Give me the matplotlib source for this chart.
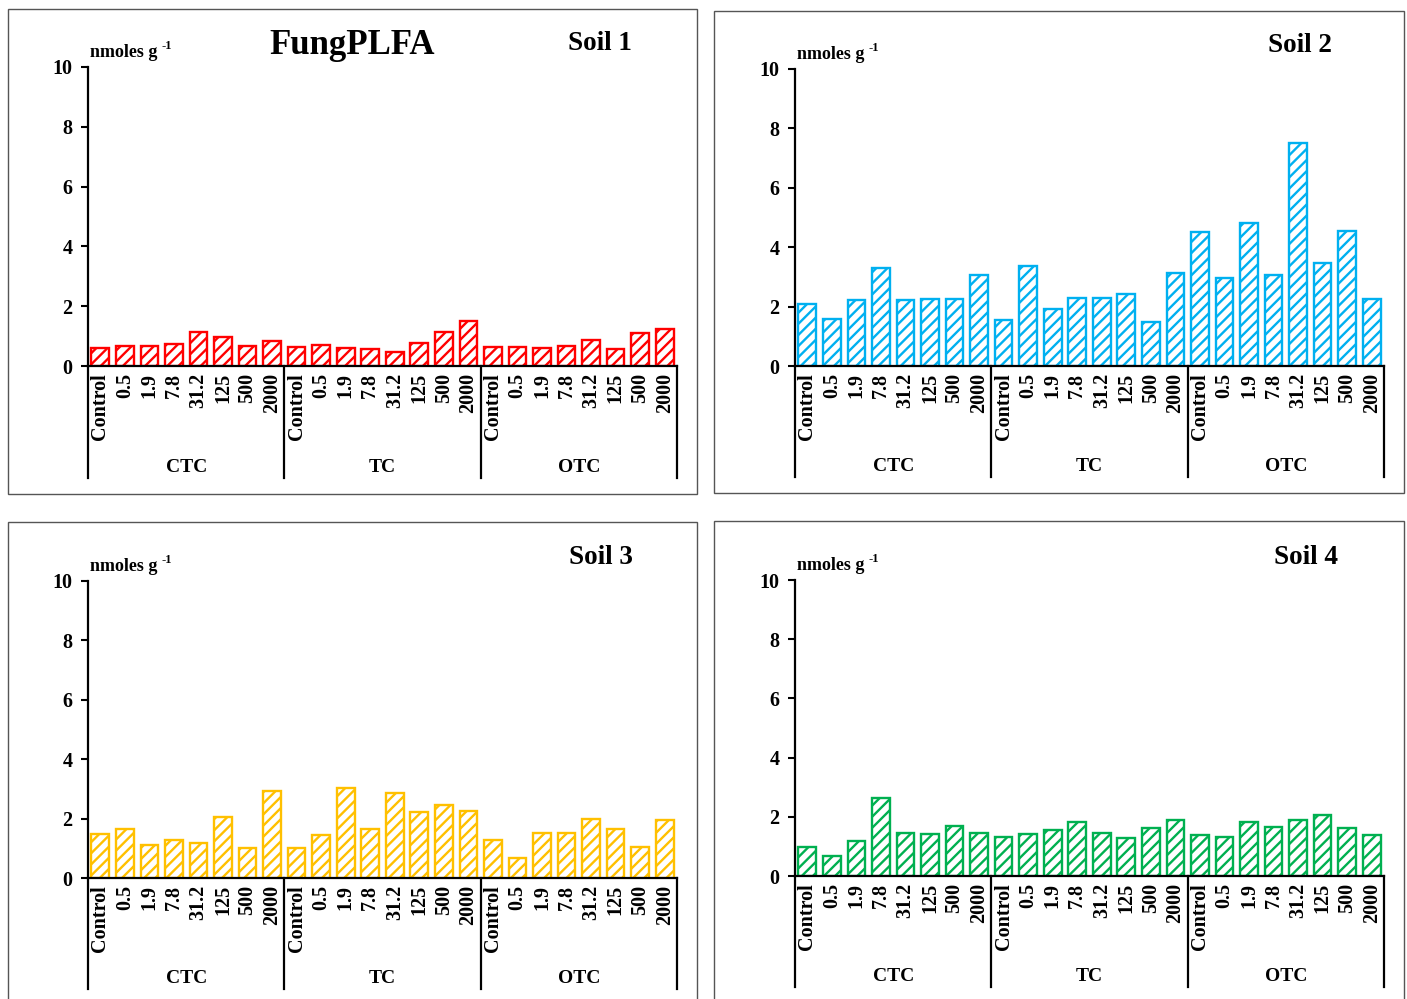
import numpy as np
import matplotlib.pyplot as plt
from matplotlib.patches import Rectangle

plt.rcParams['font.family'] = 'Liberation Serif'
plt.rcParams['font.weight'] = 'bold'
plt.rcParams['hatch.linewidth'] = 1.7

doses = ['Control', '0.5', '1.9', '7.8', '31.2', '125', '500', '2000']
groups = ['CTC', 'TC', 'OTC']
tick_labels = doses * 3

soil1 = [0.61, 0.68, 0.68, 0.75, 1.14, 0.96, 0.68, 0.84,
         0.64, 0.71, 0.61, 0.57, 0.47, 0.76, 1.15, 1.50,
         0.65, 0.65, 0.60, 0.67, 0.87, 0.57, 1.11, 1.25]
soil2 = [2.09, 1.57, 2.22, 3.30, 2.22, 2.26, 2.26, 3.08,
         1.56, 3.37, 1.93, 2.30, 2.30, 2.43, 1.49, 3.14,
         4.50, 2.96, 4.81, 3.06, 7.52, 3.46, 4.53, 2.27]
soil3 = [1.47, 1.64, 1.12, 1.29, 1.19, 2.04, 1.02, 2.94,
         1.02, 1.46, 3.04, 1.64, 2.85, 2.21, 2.47, 2.26,
         1.29, 0.69, 1.50, 1.50, 1.97, 1.64, 1.03, 1.96]
soil4 = [0.97, 0.69, 1.17, 2.62, 1.46, 1.41, 1.68, 1.46,
         1.32, 1.43, 1.56, 1.81, 1.45, 1.30, 1.62, 1.89,
         1.39, 1.32, 1.83, 1.65, 1.89, 2.07, 1.63, 1.37]

soils = [soil1, soil2, soil3, soil4]
titles = ['Soil 1', 'Soil 2', 'Soil 3', 'Soil 4']
colors = ['#FF0000', '#00B0F0', '#FFC000', '#00B050']

W, H = 1407, 999
fig = plt.figure(figsize=(W / 100, H / 100), dpi=100)

# panel layout in pixels: axes (left, right, y0, y10), title pos, box
axes_px = [(88, 677, 366, 67), (795, 1384, 366, 69),
           (88, 677, 878, 581), (795, 1384, 876, 580)]
title_px = [(600, 44), (1300, 46), (601, 557), (1306, 557)]
boxes_px = [(8, 9, 697, 494), (714, 11, 1404, 493),
            (8, 522, 697, 1010), (714, 521, 1404, 1010)]

for (x0, y0, x1, y1) in boxes_px:
    fig.patches.append(Rectangle((x0 / W, 1 - y1 / H), (x1 - x0) / W, (y1 - y0) / H,
                                 transform=fig.transFigure, fill=False,
                                 edgecolor='#555555', linewidth=1.0))

x = np.arange(len(tick_labels))
for i, vals in enumerate(soils):
    l, r, yb, yt = axes_px[i]
    ax = fig.add_axes([l / W, 1 - yb / H, (r - l) / W, (yb - yt) / H])
    ax.bar(x, vals, width=0.72, facecolor='white', edgecolor=colors[i],
           linewidth=1.7, hatch='///')
    ax.set_xlim(-0.5, len(x) - 0.5)
    ax.set_ylim(0, 10)
    ax.set_yticks([0, 2, 4, 6, 8, 10])
    ax.tick_params(axis='y', direction='out', length=5, width=1.5, labelsize=14.5, pad=6)
    ax.set_xticks(x)
    ax.set_xticklabels(tick_labels, rotation=90, fontsize=14.5, fontweight='bold')
    ax.tick_params(axis='x', length=0, pad=5)
    for s in ['top', 'right']:
        ax.spines[s].set_visible(False)
    for s in ['left', 'bottom']:
        ax.spines[s].set_linewidth(1.6)
    # group separators and labels
    for k in range(len(groups) + 1):
        ax.plot([k * 8 - 0.5, k * 8 - 0.5], [0, -0.375], color='black', lw=1.6,
                transform=ax.get_xaxis_transform(), clip_on=False)
    for k, g in enumerate(groups):
        ax.text(k * 8 + 3.5, -0.34, g, transform=ax.get_xaxis_transform(),
                ha='center', va='center', fontsize=14, fontweight='bold')
    t = ax.text(0.004, 1.05, 'nmoles g', transform=ax.transAxes,
                ha='left', va='center', fontsize=13, fontweight='bold')
    ax.annotate('-1', xy=(1.0, 0.85), xycoords=t, xytext=(3, 0),
                textcoords='offset points', ha='left', va='center',
                fontsize=9, fontweight='bold')
    tx, ty = title_px[i]
    fig.text(tx / W, 1 - ty / H, titles[i], ha='center', va='center',
             fontsize=19.5, fontweight='bold')

fig.text(352 / W, 1 - 45 / H, 'FungPLFA', ha='center', va='center',
         fontsize=25, fontweight='bold')

fig.savefig('out.png', dpi=100, facecolor='white')
